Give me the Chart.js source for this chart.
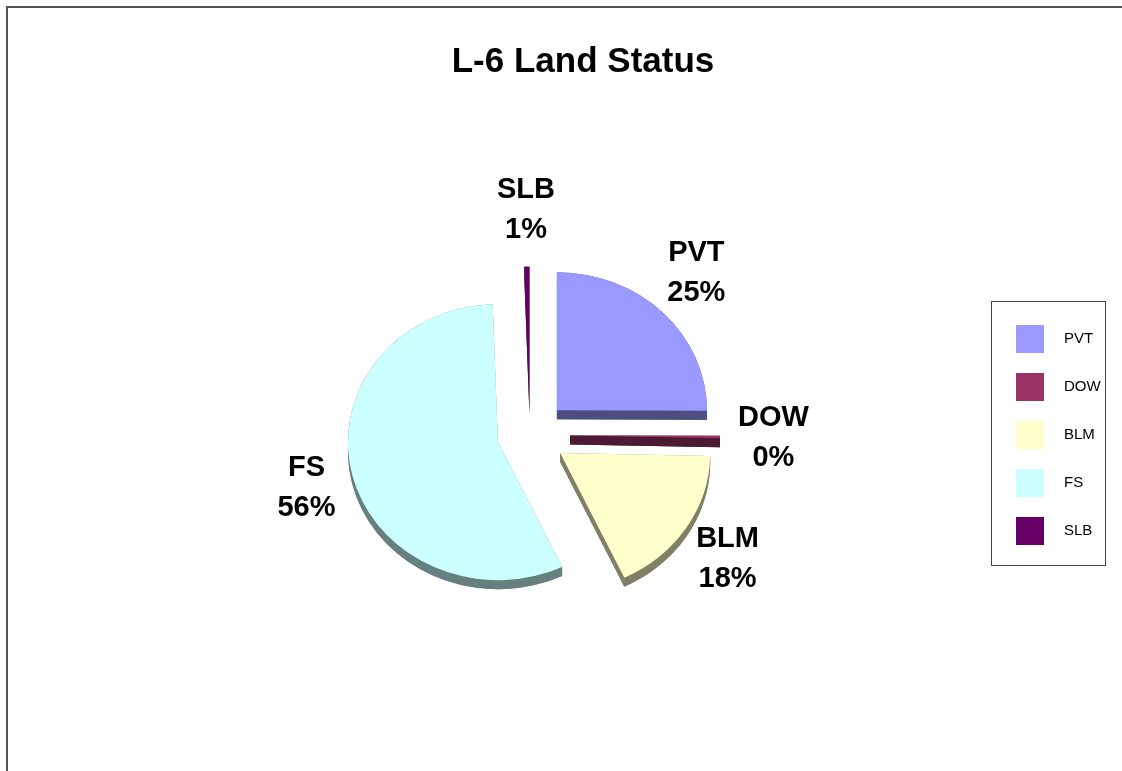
<!DOCTYPE html>
<html>
<head>
<meta charset="utf-8">
<title>L-6 Land Status</title>
<script src="https://cdn.jsdelivr.net/npm/chart.js@4.4.0/dist/chart.umd.min.js"></script>
<style>
  html, body { margin: 0; padding: 0; background: #fff; overflow: hidden; }
  #frame { position: absolute; left: 6px; top: 6px; width: 1200px; height: 900px;
           border-left: 2px solid #555; border-top: 2px solid #555; }
  #wrap { position: absolute; left: 0; top: 0; width: 1122px; height: 771px; }
</style>
</head>
<body>
<div id="frame"></div>
<div id="wrap"><canvas id="pieChart"></canvas></div>
<script>
// land status shares (percent)
const categories = ["PVT", "DOW", "BLM", "FS", "SLB"];
const shares = [25.0, 0.3, 17.6, 56.4, 0.55];

const topColors = ["#9999ff", "#993366", "#ffffcc", "#ccffff", "#660066"];
const sideColors = ["#4d4d80", "#4d1a33", "#808066", "#668080", "#330033"];
const explode = [38, 40, 36, 33, 33];   // how far each slice is pulled out, px

const TILT = 0.92;   // squash of the pie to fake the 3d view
const DEPTH = 9;     // thickness of the pie, px
const FONT = '"Liberation Sans", Arial, sans-serif';

const total = shares.reduce((s, v) => s + v, 0);

function halfAngle(a) {
  const p = a.getProps(['startAngle', 'endAngle']);
  return (p.startAngle + p.endAngle) / 2;
}

function tilt(ctx, cy) {
  ctx.translate(0, cy);
  ctx.scale(1, TILT);
  ctx.translate(0, -cy);
}

// side of one slice, in the untilted frame; D = depth in that frame
function drawSide(ctx, x, y, r, s, e, D) {
  const pts = [s, e].map(t => [x + Math.cos(t) * r, y + Math.sin(t) * r]);
  ctx.beginPath();
  ctx.moveTo(x, y + D);
  ctx.arc(x, y + D, r, s, e);
  ctx.closePath();
  ctx.fill();
  pts.forEach(([px, py]) => {
    ctx.beginPath();
    ctx.moveTo(x, y);
    ctx.lineTo(px, py);
    ctx.lineTo(px, py + D);
    ctx.lineTo(x, y + D);
    ctx.closePath();
    ctx.fill();
  });
  ctx.beginPath();
  ctx.arc(x, y, r, s, e);
  ctx.arc(x, y + D, r, e, s, true);
  ctx.closePath();
  ctx.fill();
}

const pie3d = {
  id: 'pie3d',
  beforeDatasetDraw(chart) {
    const ctx = chart.ctx;
    const arcs = chart.getDatasetMeta(0).data;
    const cy = arcs[0].y;
    // sides first
    arcs.forEach((a, i) => {
      const p = a.getProps(['x', 'y', 'startAngle', 'endAngle', 'outerRadius']);
      const h = halfAngle(a);
      ctx.save();
      tilt(ctx, cy);
      ctx.fillStyle = sideColors[i];
      drawSide(ctx, p.x + Math.cos(h) * explode[i], p.y + Math.sin(h) * explode[i],
               p.outerRadius, p.startAngle, p.endAngle, DEPTH / TILT);
      ctx.restore();
    });
    // then the tops, drawn by the arc elements
    arcs.forEach((a, i) => {
      const h = halfAngle(a);
      ctx.save();
      tilt(ctx, cy);
      ctx.translate(Math.cos(h) * explode[i], Math.sin(h) * explode[i]);
      a.draw(ctx);
      ctx.restore();
    });
    return false;
  },
  afterDraw(chart) {
    const ctx = chart.ctx;
    const arcs = chart.getDatasetMeta(0).data;
    // slice labels
    ctx.save();
    ctx.font = 'bold 29px ' + FONT;
    ctx.fillStyle = '#000';
    ctx.textAlign = 'center';
    ctx.textBaseline = 'middle';
    arcs.forEach((a, i) => {
      const p = a.getProps(['x', 'y', 'outerRadius']);
      const h = halfAngle(a);
      const pct = Math.round(shares[i] / total * 100) + '%';
      const w = Math.max(ctx.measureText(categories[i]).width, ctx.measureText(pct).width);
      const r = p.outerRadius + explode[i] + 18;
      const x = p.x + Math.cos(h) * r + Math.cos(h) * w / 2;
      const y = p.y + Math.sin(h) * r * TILT + Math.sin(h) * 40;
      ctx.fillText(categories[i], x, y - 20);
      ctx.fillText(pct, x, y + 20);
    });
    // frame round the legend
    const hb = chart.legend.legendHitBoxes;
    if (hb && hb.length) {
      const left = hb[0].left - 25, top = hb[0].top - 24;
      const bottom = hb[hb.length - 1].top + hb[hb.length - 1].height + 20;
      ctx.lineWidth = 1;
      ctx.strokeStyle = '#444';
      ctx.strokeRect(Math.round(left) + 0.5, Math.round(top) + 0.5, 114, Math.round(bottom - top));
    }
    ctx.restore();
  }
};

const CHART = document.getElementById("pieChart");
let pieChart = new Chart(CHART, {
  type: 'pie',
  data: {
    labels: categories,
    datasets: [{
      data: shares,
      backgroundColor: topColors,
      borderWidth: 0
    }]
  },
  options: {
    responsive: true,
    maintainAspectRatio: false,
    animation: false,
    events: [],
    radius: 150,
    layout: { padding: { left: 64, right: 20, top: 0, bottom: 0 } },
    plugins: {
      tooltip: { enabled: false },
      title: {
        display: true,
        text: 'L-6 Land Status',
        color: '#000',
        font: { family: FONT, size: 35, weight: 'bold' },
        padding: { top: 41, bottom: 16 }
      },
      legend: {
        position: 'right',
        fullSize: false,
        maxWidth: 106,
        labels: {
          color: '#000',
          font: { family: FONT, size: 15 },
          boxWidth: 28,
          boxHeight: 28,
          padding: 20,
          generateLabels: () => categories.map((c, i) => ({
            text: '   ' + c,
            fillStyle: topColors[i],
            strokeStyle: topColors[i],
            lineWidth: 0,
            hidden: false,
            index: i
          }))
        }
      }
    }
  },
  plugins: [pie3d]
});
</script>
</body>
</html>
